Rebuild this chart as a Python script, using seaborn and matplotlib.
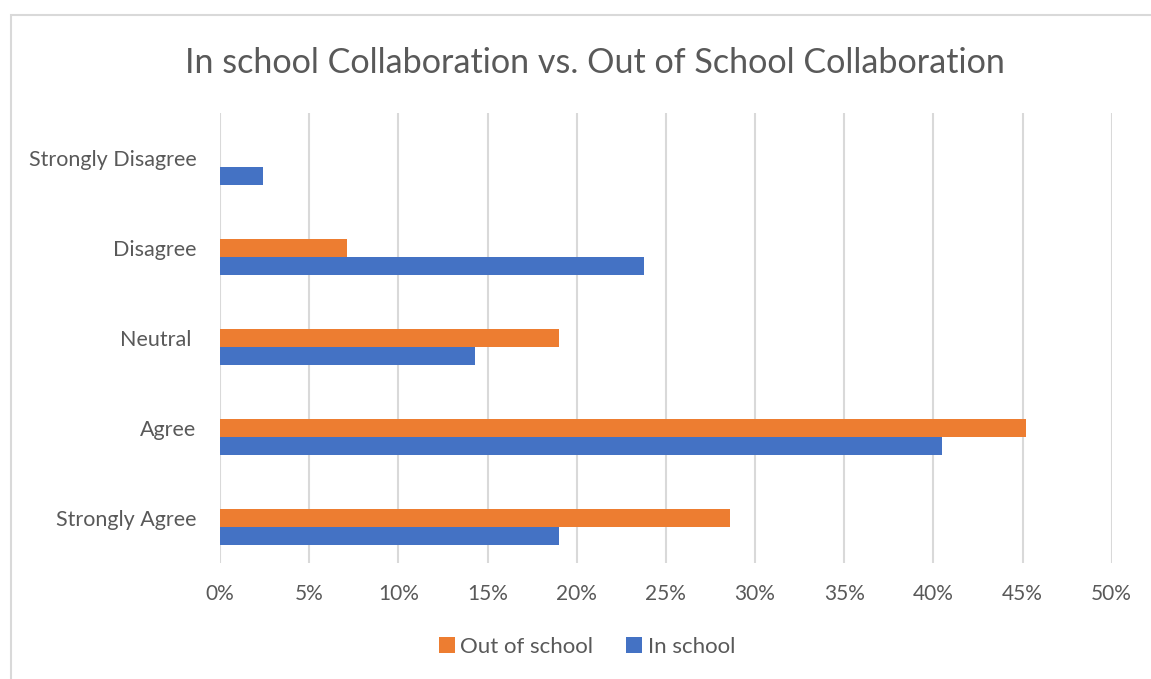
import numpy as np
import pandas as pd
import matplotlib
matplotlib.use("Agg")
import matplotlib.pyplot as plt
from matplotlib.patches import Patch, Rectangle
from matplotlib.ticker import PercentFormatter, MultipleLocator
import seaborn as sns

# Survey responses (share of respondents)
categories = ["Strongly Disagree", "Disagree", "Neutral ", "Agree", "Strongly Agree"]
in_school = [0.024, 0.238, 0.143, 0.405, 0.190]
out_of_school = [0.0, 0.071, 0.190, 0.452, 0.286]
series_names = ["Out of school", "In school"]
series_colors = ["#ED7D31", "#4472C4"]
title = "In school Collaboration vs. Out of School Collaboration"

sns.set_theme(style="white")
plt.rcParams["font.family"] = ["Lato", "DejaVu Sans"]
text_color = "#595959"
grid_color = "#D9D9D9"

df = pd.DataFrame({
    "response": categories * 2,
    "share": out_of_school + in_school,
    "setting": [series_names[0]] * len(categories) + [series_names[1]] * len(categories),
})

fig = plt.figure(figsize=(11.51, 6.79), dpi=100)
ax = fig.add_axes([220 / 1151, 1 - 563 / 679, (1111.7 - 220) / 1151, (563 - 113.3) / 679])

sns.barplot(
    data=df, y="response", x="share", hue="setting",
    order=categories, hue_order=series_names,
    palette=series_colors, saturation=1, width=0.4, dodge=True,
    linewidth=0, errorbar=None, legend=False, ax=ax,
)

ax.set_xlim(0, 0.5)
ax.set_ylim(len(categories) - 0.6, -0.6)
ax.xaxis.set_major_locator(MultipleLocator(0.05))
ax.xaxis.set_major_formatter(PercentFormatter(1.0, decimals=0))
ax.set_yticks(np.arange(len(categories)) - 0.1, categories)
ax.set_xlabel("")
ax.set_ylabel("")

ax.grid(axis="x", color=grid_color, linewidth=1.5)
ax.grid(axis="y", visible=False)
ax.set_axisbelow(True)
for side in ["top", "right", "bottom", "left"]:
    ax.spines[side].set_visible(False)

ax.tick_params(axis="both", length=0, labelcolor=text_color)
ax.tick_params(axis="x", pad=15, labelsize=15)
ax.tick_params(axis="y", pad=17, labelsize=15.5)

fig.text(595 / 1151, 1 - 63 / 679, title, ha="center", va="center",
         fontsize=24.6, color=text_color, fontweight="normal")

handles = [Patch(facecolor=c, edgecolor="none", label=n) for n, c in zip(series_names, series_colors)]
fig.legend(handles=handles, loc="center", bbox_to_anchor=(587 / 1151, 1 - 647 / 679),
           ncol=2, frameon=False, fontsize=16, labelcolor=text_color,
           handlelength=0.7, handleheight=0.7, handletextpad=0.25, columnspacing=1.5)

# chart border
fig.patches.append(Rectangle((11 / 1151, -0.05), 1.1, 1 - 14.5 / 679 + 0.05,
                             transform=fig.transFigure, fill=False,
                             edgecolor=grid_color, linewidth=1.5))

fig.savefig("out.png", dpi=100, facecolor="white")
